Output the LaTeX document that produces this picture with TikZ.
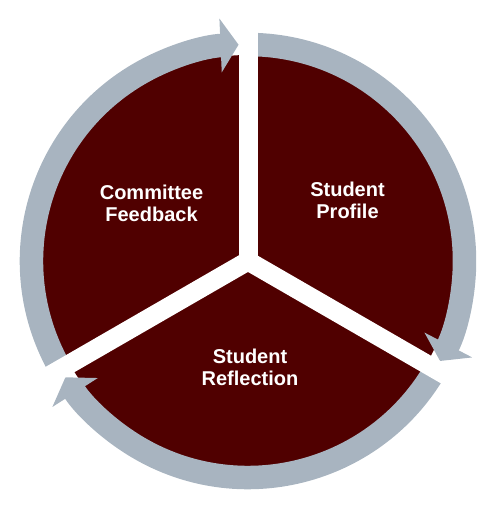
\documentclass[tikz,border=0pt]{standalone}
\usepackage{fontspec}
\setmainfont{Liberation Sans}
\usetikzlibrary{arrows.meta}
\definecolor{discred}{RGB}{80,0,0}
\definecolor{ringgray}{RGB}{168,180,192}

\begin{document}
\begin{tikzpicture}[x=1pt,y=1pt,
	cyclearc/.style={draw=ringgray, line width=23.5pt, -{Triangle[length=18pt,width=53pt]}},
	gapbar/.style={draw=white, line width=19pt},
	phasetext/.style={text=white, font=\bfseries\fontsize{20}{22}\selectfont, align=center}]
\useasboundingbox (-248,-263) rectangle (236,261);
\coordinate (hub) at (0,0);
\fill[discred] (hub) circle (206);
\draw[cyclearc] (hub) ++(209:216.5) arc[start angle=209, end angle=92.5, radius=216.5];
\draw[cyclearc] (hub) ++(89:216.5) arc[start angle=89, end angle=-27.5, radius=216.5];
\draw[cyclearc] (hub) ++(-31:216.5) arc[start angle=-31, end angle=-147.5, radius=216.5];
\foreach \a in {90,210,330}
	\draw[gapbar] (hub) -- (\a:245);
\node[phasetext] (feedback) at (-96.5,58) {Committee\\Feedback};
\node[phasetext] (profile) at (99.5,61) {Student\\Profile};
\node[phasetext] (reflection) at (2,-106) {Student\\Reflection};
\end{tikzpicture}
\end{document}
